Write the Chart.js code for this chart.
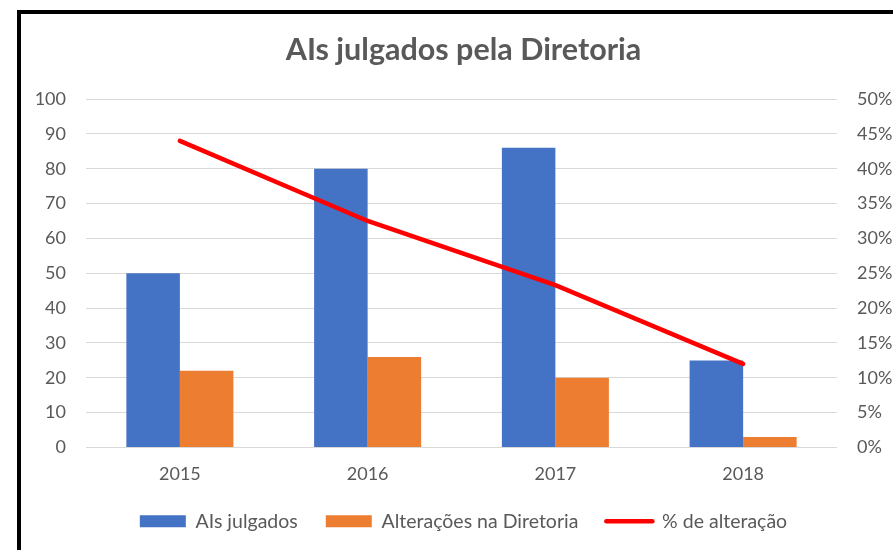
<!DOCTYPE html>
<html>
<head>
<meta charset="utf-8">
<script src="https://cdn.jsdelivr.net/npm/chart.js@4.4.0/dist/chart.umd.min.js"></script>
<style>
  html, body { margin: 0; padding: 0; background: #fff; overflow: hidden; }
  #moldura { position: absolute; left: 17px; top: 10px; width: 900px; height: 560px; border: 4px solid #000; box-sizing: border-box; }
  #caixa { position: absolute; left: 0; top: 0; width: 893px; height: 550px; }
</style>
</head>
<body>
<div id="moldura"></div>
<div id="caixa"><canvas id="grafico"></canvas></div>
<script>
// dados
const anos = ['2015', '2016', '2017', '2018'];
const aisJulgados = [50, 80, 86, 25];
const alteracoes = [22, 26, 20, 3];
const percAlteracao = [0.44, 0.325, 0.233, 0.12];
const ticksEsq = [0, 10, 20, 30, 40, 50, 60, 70, 80, 90, 100];
const ticksDir = [0, 0.05, 0.1, 0.15, 0.2, 0.25, 0.3, 0.35, 0.4, 0.45, 0.5];

const cinza = '#595959';
const fonte = { family: 'Lato', size: 18 };

const dados = {
  labels: anos,
  datasets: [
    {
      type: 'line',
      label: '% de alteração',
      data: percAlteracao,
      borderColor: '#FF0000',
      backgroundColor: '#FF0000',
      borderWidth: 4.5,
      borderCapStyle: 'round',
      pointRadius: 0,
      yAxisID: 'y1',
      order: 0
    },
    {
      label: 'AIs julgados',
      data: aisJulgados,
      backgroundColor: '#4472C4',
      yAxisID: 'y',
      order: 1
    },
    {
      label: 'Alterações na Diretoria',
      data: alteracoes,
      backgroundColor: '#ED7D31',
      yAxisID: 'y',
      order: 1
    }
  ]
};

const opcoes = {
  responsive: true,
  maintainAspectRatio: false,
  animation: false,
  // padding a esquerda para centralizar titulo e legenda como no original
  layout: { padding: { left: 34, right: 0, top: 0, bottom: 9 } },
  datasets: { bar: { categoryPercentage: 0.57, barPercentage: 1 } },
  scales: {
    x: {
      grid: { display: false, drawTicks: false },
      border: { display: false },
      ticks: { color: cinza, font: fonte, padding: 16 },
      afterFit: (s) => { s.height = 36; }
    },
    y: {
      position: 'left',
      min: 0, max: 100,
      afterBuildTicks: (s) => { s.ticks = ticksEsq.map(v => ({ value: v })); },
      grid: { color: '#D9D9D9', lineWidth: 1, drawTicks: false },
      border: { display: false },
      ticks: { color: cinza, font: fonte, padding: 20 },
      afterFit: (s) => { s.width = 52; }
    },
    y1: {
      position: 'right',
      min: 0, max: 0.5,
      afterBuildTicks: (s) => { s.ticks = ticksDir.map(v => ({ value: v })); },
      grid: { display: false, drawTicks: false },
      border: { display: false },
      ticks: {
        color: cinza, font: fonte, padding: 20,
        callback: (v) => Math.round(v * 100) + '%'
      },
      afterFit: (s) => { s.width = 56; }
    }
  },
  plugins: {
    title: {
      display: true,
      text: 'AIs julgados pela Diretoria',
      color: cinza,
      font: { family: 'Lato', size: 30.5, weight: 'bold' },
      padding: { top: 32, bottom: 30.4 }
    },
    legend: {
      position: 'bottom',
      labels: {
        color: cinza,
        font: { family: 'Lato', size: 19.5 },
        usePointStyle: true,
        pointStyleWidth: 46,
        boxHeight: 12,
        padding: 28,
        generateLabels: (chart) => {
          const ds = chart.data.datasets;
          const ordem = [1, 2, 0];
          return ordem.map(i => ({
            text: ds[i].label,
            fillStyle: ds[i].backgroundColor,
            strokeStyle: ds[i].backgroundColor,
            lineWidth: ds[i].type === 'line' ? 4.5 : 0,
            lineCap: 'round',
            pointStyle: ds[i].type === 'line' ? 'line' : 'rect',
            datasetIndex: i,
            fontColor: cinza,
            hidden: false
          }));
        }
      }
    },
    tooltip: { enabled: false }
  }
};

new Chart(document.getElementById('grafico'), { type: 'bar', data: dados, options: opcoes });
</script>
</body>
</html>
